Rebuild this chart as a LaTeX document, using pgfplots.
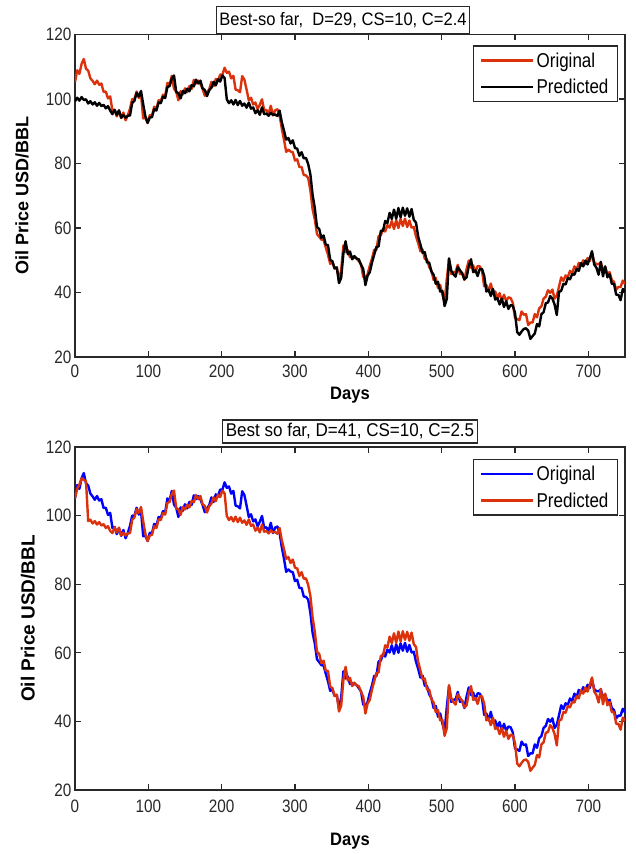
\documentclass[border=0pt]{standalone}
\usepackage{pgfplots}
\pgfplotsset{compat=1.18}
\usepackage{pgfplotstable}
\usepackage{fontspec}
\setmainfont{Liberation Sans}
\newfontfamily\narrowfont[FakeStretch=0.85]{Liberation Sans}
\newfontfamily\labfont[FakeStretch=0.92]{Liberation Sans}

\definecolor{mred}{RGB}{220,50,12}
\definecolor{mblue}{RGB}{0,0,255}
\definecolor{axgray}{RGB}{40,40,40}

% daily oil price (USD/BBL), sampled every third day:
% orig = actual price, predA / predB = forecasts of the two models
\pgfplotstableread{
day orig predA predB
0 105.2 99.3 105.0
3 108.9 100.4 107.9
6 107.8 99.5 109.0
9 110.9 100.6 110.9
12 112.4 99.7 110.4
15 109.4 99.9 110.1
18 108.8 98.6 98.4
21 106.4 99.3 98.8
24 105.6 98.3 97.7
27 104.6 99.0 98.4
30 105.7 97.9 97.4
33 104.4 98.8 98.1
36 104.8 97.8 97.1
39 102.2 98.2 97.5
42 102.3 97.1 96.4
45 100.2 97.8 96.9
48 100.8 96.4 95.5
51 96.4 95.3 94.9
54 96.7 96.6 96.6
57 94.6 95.1 95.1
60 96.3 96.5 96.5
63 94.1 94.2 94.2
66 95.8 95.0 95.0
69 93.4 94.2 94.2
72 95.0 94.8 94.8
75 97.0 94.9 94.9
78 100.0 98.8 98.8
81 99.9 99.4 99.4
84 102.3 101.9 101.9
87 100.3 100.8 100.8
90 101.5 102.5 102.5
93 94.0 98.4 98.4
96 94.1 94.6 94.6
99 92.6 92.6 92.6
102 95.0 94.2 94.2
105 94.9 94.4 94.4
108 97.6 96.9 96.9
111 96.9 96.4 96.4
114 99.6 98.9 98.9
117 99.4 98.7 98.7
120 101.3 100.7 100.7
123 101.0 100.3 100.3
126 105.0 103.7 103.7
129 104.4 104.0 104.0
132 107.2 106.3 106.3
135 103.2 107.3 107.3
138 102.3 102.2 102.2
141 99.6 101.8 101.8
144 102.4 100.2 100.2
147 101.4 102.5 102.5
150 103.3 101.8 101.8
153 102.1 103.2 103.2
156 104.0 102.4 102.4
159 103.1 104.3 104.3
162 105.9 103.9 103.9
165 104.8 106.0 106.0
168 105.7 104.8 104.8
171 104.7 105.7 105.7
174 103.1 103.3 103.3
177 101.0 102.8 102.8
180 102.1 100.9 100.9
183 103.0 102.7 102.7
186 105.3 103.5 103.5
189 104.0 105.3 105.3
192 106.2 104.2 104.2
195 105.6 106.1 106.1
198 107.6 105.4 105.4
201 107.5 107.3 107.3
204 109.7 106.5 106.5
207 108.1 99.9 99.9
210 108.5 98.7 98.7
213 106.4 99.6 99.6
216 107.2 98.3 98.3
219 102.9 99.7 99.7
222 102.7 98.1 98.1
225 102.1 99.4 99.4
228 107.1 97.9 97.9
231 106.0 98.6 98.6
234 102.9 97.3 97.3
237 99.6 98.9 98.9
240 100.4 97.0 97.0
243 98.3 97.4 97.4
246 98.9 95.6 95.6
249 96.9 96.5 96.5
252 98.2 95.1 95.1
255 99.9 97.4 97.4
258 96.4 95.3 95.3
261 96.6 95.5 95.5
264 95.4 94.8 94.8
267 97.9 95.7 95.7
270 94.9 95.1 95.1
273 96.5 95.2 95.2
276 96.8 94.7 94.7
279 94.9 96.4 96.4
282 90.8 92.8 92.8
285 87.4 90.2 90.2
288 83.6 87.4 87.4
291 84.3 87.9 87.9
294 83.7 86.2 86.2
297 83.5 87.2 87.2
300 80.9 84.8 84.8
303 81.3 84.6 84.6
306 78.9 82.4 82.4
309 78.9 83.5 83.5
312 76.4 81.6 81.6
315 76.3 81.7 81.7
318 75.5 79.8 79.8
321 71.6 76.6 76.6
324 65.8 70.3 70.3
327 62.7 66.2 66.2
330 58.1 60.3 60.3
333 57.3 59.7 59.7
336 56.4 56.9 56.9
339 56.3 57.7 57.7
342 53.9 54.8 54.8
345 51.7 54.7 54.7
348 48.9 50.1 50.1
351 49.3 49.7 49.7
354 47.4 47.5 47.5
357 47.7 47.8 47.8
360 43.9 42.9 42.9
363 47.0 44.6 44.6
366 54.6 52.1 52.1
369 52.5 55.9 55.9
372 53.1 51.9 51.9
375 50.9 52.7 52.7
378 51.1 50.3 50.3
381 50.9 51.3 51.3
384 50.6 50.5 50.5
387 49.7 50.3 50.3
390 48.8 48.6 48.6
393 44.9 47.3 47.3
396 44.6 42.3 42.3
399 45.7 45.2 45.2
402 48.3 46.3 46.3
405 50.5 49.3 49.3
408 53.3 51.7 51.7
411 53.2 54.1 54.1
414 57.5 54.3 54.3
417 57.7 59.1 59.1
420 59.7 59.1 59.1
423 58.9 62.2 62.2
426 60.9 61.5 61.5
429 60.1 64.7 64.7
432 62.2 62.8 62.8
435 59.7 65.7 65.7
438 62.5 62.9 62.9
441 60.0 66.2 66.2
444 62.8 63.3 63.3
447 60.6 66.3 66.3
450 62.9 63.8 63.8
453 60.3 66.1 66.1
456 62.3 63.5 63.5
459 60.1 65.9 65.9
462 60.3 62.5 62.5
465 57.4 61.7 61.7
468 55.3 57.3 57.3
471 52.8 54.9 54.9
474 53.3 52.3 52.3
477 50.4 52.5 52.5
480 50.3 49.3 49.3
483 47.9 49.3 49.3
486 46.8 46.5 46.5
489 43.9 45.5 45.5
492 44.5 42.7 42.7
495 41.4 43.3 43.3
498 42.3 40.3 40.3
501 39.4 40.5 40.5
504 37.0 35.8 35.8
507 44.2 38.0 38.0
510 50.2 50.6 50.6
513 45.7 46.8 46.8
516 46.3 45.7 45.7
519 46.4 44.9 44.9
522 48.6 47.9 47.9
525 45.7 46.9 46.9
528 46.1 45.9 45.9
531 43.9 44.1 44.1
534 47.3 44.7 44.7
537 49.9 48.2 48.2
540 47.7 50.3 50.3
543 48.4 46.3 46.3
546 46.3 46.9 46.9
549 48.2 45.1 45.1
552 48.1 47.3 47.3
555 46.8 47.3 47.3
558 41.9 45.2 45.2
561 42.3 40.3 40.3
564 40.3 40.9 40.9
567 42.8 38.9 38.9
570 39.9 41.1 41.1
573 40.3 37.8 37.8
576 38.2 38.3 38.3
579 39.8 36.3 36.3
582 37.4 38.1 38.1
585 39.3 35.5 35.5
588 37.3 37.3 37.3
591 38.5 34.9 34.9
594 38.3 36.1 36.1
597 36.8 35.9 35.9
600 32.1 33.7 33.7
603 31.8 27.7 27.7
606 31.4 26.9 26.9
609 34.1 27.9 27.9
612 33.1 28.7 28.7
615 33.3 28.9 28.9
618 29.9 28.2 28.2
621 30.7 25.6 25.6
624 30.7 26.5 26.5
627 33.3 27.3 27.3
630 32.3 30.2 30.2
633 35.1 29.5 29.5
636 35.7 33.3 33.3
639 38.1 33.9 33.9
642 38.7 36.7 36.7
645 40.7 36.9 36.9
648 39.9 38.9 38.9
651 40.9 38.1 38.1
654 38.1 36.3 36.3
657 39.0 33.0 33.0
660 41.8 40.2 40.2
663 44.7 40.5 40.5
666 43.6 42.7 42.7
669 45.3 42.5 42.5
672 44.8 44.5 44.5
675 46.7 44.1 44.1
678 45.9 45.7 45.7
681 48.1 45.5 45.5
684 47.1 47.3 47.3
687 49.2 46.7 46.7
690 48.3 49.1 49.1
693 50.0 48.1 48.1
696 48.8 49.9 49.9
699 50.7 48.7 48.7
702 49.8 50.6 50.6
705 52.2 52.8 52.8
708 49.4 48.7 48.7
711 48.8 47.7 47.7
714 48.8 45.5 45.5
717 49.3 49.5 49.5
720 46.9 45.0 45.0
723 47.8 48.1 48.1
726 45.8 44.7 44.7
729 46.3 45.7 45.7
732 43.9 42.7 42.7
735 43.3 42.7 42.7
738 40.9 39.3 39.3
741 41.7 39.3 39.3
744 41.7 37.6 37.6
747 43.7 41.1 41.1
750 42.6 40.2 40.2
}\oildata

\pgfplotsset{
  oilaxis/.style={
    scale only axis,
    width=550pt,
    xmin=0, xmax=750, ymin=20, ymax=120,
    xtick={0,100,...,700},
    ytick={20,40,...,120},
    tick align=inside,
    major tick length=6pt,
    axis line style={line width=1.1pt, axgray},
    every tick/.style={line width=1.1pt, axgray},
    /pgf/number format/assume math mode=true,
    tick label style={font=\narrowfont\fontsize{18}{18}\selectfont, text=axgray},
    xlabel={Days},
    ylabel={Oil Price USD/BBL},
    xlabel style={font=\labfont\bfseries\fontsize{18}{18}\selectfont, anchor=center},
    every axis title/.style={at={(0.5,1)}, anchor=south},
    title style={draw=axgray, line width=1.1pt, fill=white,
      inner xsep=3pt},
    legend style={at={(1,1)}, anchor=north east, draw=axgray, line width=1.1pt,
      fill=white, font=\narrowfont\fontsize{20}{20}\selectfont,
      inner xsep=7pt, inner ysep=4.5pt, row sep=6.5pt,
      /tikz/every even column/.append style={column sep=3pt}},
    legend cell align=left,
    legend image code/.code={\draw[#1] (0pt,0pt) -- (52pt,0pt);},
    every axis plot/.append style={line width=2.4pt, line join=round},
  }
}

\begin{document}
\begin{tikzpicture}
% upper panel
\begin{axis}[oilaxis,
  height=322.5pt,
  title={Best-so far,\ \ D=29, CS=10, C=2.4},
  title style={font=\labfont\fontsize{18}{18}\selectfont, xshift=-7pt,
    text height=13.5pt, text depth=3.5pt, inner ysep=5pt},
  xticklabel style={yshift=-4.5pt},
  xlabel style={at={([yshift=-38.5pt]axis description cs:0.5,0)}},
  ylabel style={at={([xshift=-53pt]axis description cs:0,0.5)}, anchor=center,
    font=\bfseries\fontsize{18}{18}\selectfont},
  legend style={xshift=-7pt, yshift=-11pt},
]
\addplot[color=mred] table[x=day, y=orig] {\oildata};
\addplot[color=black] table[x=day, y=predA] {\oildata};
\legend{Original, Predicted}
\end{axis}

% lower panel
\begin{axis}[oilaxis,
  at={(0pt,-433pt)},
  height=343pt,
  title={Best so far, D=41, CS=10, C=2.5},
  title style={font=\labfont\fontsize{18.5}{18.5}\selectfont,
    yshift=3.5pt, text height=13pt, text depth=3pt, inner ysep=3.5pt},
  xticklabel style={yshift=-6.5pt},
  xlabel style={at={([yshift=-51.5pt]axis description cs:0.5,0)}},
  ylabel style={at={([xshift=-47pt]axis description cs:0,0.5)}, anchor=center,
    font=\bfseries\fontsize{19}{19}\selectfont},
  legend style={xshift=-7pt, yshift=-12pt},
]
\addplot[color=mblue] table[x=day, y=orig] {\oildata};
\addplot[color=mred] table[x=day, y=predB] {\oildata};
\legend{Original, Predicted}
\end{axis}

\pgfresetboundingbox
\path[use as bounding box] (-75pt,-497pt) rectangle (561pt,357pt);
\end{tikzpicture}
\end{document}
